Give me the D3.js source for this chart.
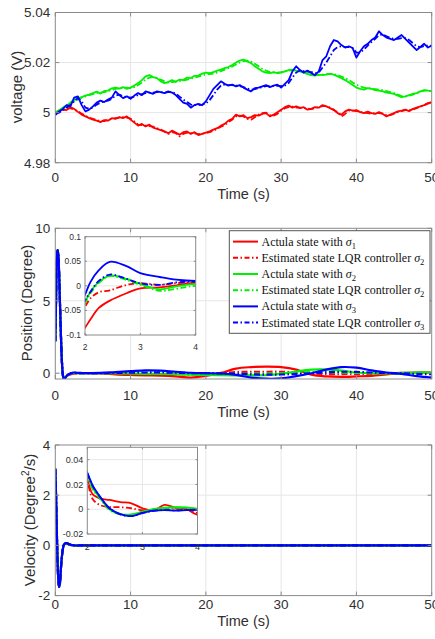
<!DOCTYPE html>
<html><head><meta charset="utf-8">
<script src="https://cdn.jsdelivr.net/npm/d3@7"></script>
<style>body{margin:0;background:#fff}</style>
</head><body><svg id="c" width="435" height="639" xmlns="http://www.w3.org/2000/svg"></svg>
<script>
// ---------------- DATA ----------------
const xTicks = [0, 10, 20, 30, 40, 50];

// Panel 1: voltage, sampled every 0.5 s from 0 to 50 s
const voltRed = [
5.0000,5.0008,5.0012,5.0010,5.0022,5.0015,5.0003,4.9992,4.9985,4.9978,
4.9972,4.9968,4.9962,4.9970,4.9968,4.9978,4.9975,4.9982,4.9978,4.9985,
4.9972,4.9960,4.9948,4.9955,4.9945,4.9952,4.9940,4.9935,4.9930,4.9925,
4.9918,4.9928,4.9920,4.9912,4.9922,4.9925,4.9915,4.9922,4.9910,4.9915,
4.9920,4.9925,4.9932,4.9938,4.9948,4.9955,4.9968,4.9975,4.9992,4.9985,
4.9990,4.9978,4.9982,4.9990,4.9988,4.9995,4.9998,4.9985,4.9992,5.0002,
5.0012,5.0022,5.0028,5.0020,5.0025,5.0018,5.0022,5.0012,5.0015,5.0022,
5.0020,5.0030,5.0025,5.0018,5.0010,4.9998,4.9992,5.0005,5.0012,5.0008,
5.0010,5.0002,4.9998,5.0004,4.9998,4.9995,5.0002,4.9995,4.9985,4.9992,
4.9998,5.0005,5.0008,5.0012,5.0006,5.0015,5.0020,5.0025,5.0030,5.0038,
5.0042];
const voltRedEst = [
5.0000,5.0004,5.0010,5.0016,5.0018,5.0012,5.0006,4.9996,4.9988,4.9980,
4.9975,4.9970,4.9966,4.9966,4.9972,4.9975,4.9978,4.9980,4.9982,4.9980,
4.9976,4.9965,4.9952,4.9950,4.9948,4.9946,4.9944,4.9938,4.9932,4.9924,
4.9915,4.9922,4.9918,4.9905,4.9915,4.9920,4.9918,4.9917,4.9914,4.9916,
4.9918,4.9922,4.9928,4.9935,4.9944,4.9950,4.9962,4.9972,4.9985,4.9988,
4.9985,4.9975,4.9972,4.9982,4.9992,4.9998,5.0000,4.9990,4.9988,4.9995,
5.0008,5.0018,5.0022,5.0024,5.0020,5.0020,5.0018,5.0016,5.0014,5.0018,
5.0022,5.0026,5.0026,5.0020,5.0012,5.0002,4.9985,4.9995,5.0008,5.0008,
5.0006,5.0004,5.0000,4.9998,4.9996,4.9998,4.9998,4.9996,4.9990,4.9990,
4.9996,5.0002,5.0006,5.0010,5.0010,5.0012,5.0018,5.0024,5.0030,5.0036,
5.0040];
const voltGreen = [
5.0000,5.0010,5.0020,5.0028,5.0040,5.0050,5.0058,5.0062,5.0068,5.0072,
5.0078,5.0084,5.0076,5.0087,5.0088,5.0097,5.0100,5.0096,5.0102,5.0095,
5.0100,5.0108,5.0118,5.0130,5.0145,5.0150,5.0142,5.0138,5.0125,5.0118,
5.0122,5.0130,5.0123,5.0132,5.0130,5.0140,5.0138,5.0147,5.0148,5.0156,
5.0160,5.0158,5.0162,5.0168,5.0172,5.0178,5.0182,5.0190,5.0200,5.0208,
5.0212,5.0205,5.0198,5.0185,5.0175,5.0165,5.0160,5.0158,5.0162,5.0158,
5.0160,5.0165,5.0170,5.0172,5.0168,5.0165,5.0160,5.0155,5.0150,5.0148,
5.0152,5.0150,5.0152,5.0155,5.0152,5.0145,5.0138,5.0130,5.0120,5.0110,
5.0100,5.0095,5.0092,5.0098,5.0095,5.0090,5.0088,5.0085,5.0080,5.0078,
5.0075,5.0068,5.0062,5.0065,5.0070,5.0075,5.0078,5.0085,5.0090,5.0088,
5.0085];
const voltGreenEst = [
5.0000,5.0008,5.0016,5.0025,5.0035,5.0045,5.0052,5.0060,5.0065,5.0070,
5.0074,5.0078,5.0080,5.0082,5.0086,5.0090,5.0095,5.0098,5.0100,5.0100,
5.0098,5.0102,5.0110,5.0120,5.0132,5.0140,5.0142,5.0138,5.0132,5.0125,
5.0120,5.0122,5.0124,5.0126,5.0128,5.0132,5.0136,5.0140,5.0144,5.0148,
5.0152,5.0154,5.0156,5.0160,5.0166,5.0172,5.0178,5.0184,5.0192,5.0200,
5.0206,5.0208,5.0204,5.0195,5.0185,5.0175,5.0168,5.0162,5.0160,5.0160,
5.0162,5.0164,5.0168,5.0170,5.0168,5.0164,5.0160,5.0156,5.0152,5.0150,
5.0150,5.0152,5.0154,5.0155,5.0154,5.0150,5.0144,5.0138,5.0130,5.0120,
5.0112,5.0105,5.0100,5.0098,5.0096,5.0094,5.0092,5.0090,5.0086,5.0082,
5.0078,5.0072,5.0066,5.0064,5.0068,5.0072,5.0078,5.0084,5.0088,5.0088,
5.0086];
const voltBlue = [
4.9990,5.0005,5.0015,5.0030,5.0025,5.0060,5.0065,5.0030,5.0005,5.0012,
5.0025,5.0040,5.0048,5.0042,5.0052,5.0060,5.0085,5.0070,5.0058,5.0065,
5.0055,5.0068,5.0078,5.0070,5.0085,5.0080,5.0075,5.0085,5.0082,5.0078,
5.0085,5.0080,5.0070,5.0055,5.0040,5.0035,5.0020,5.0030,5.0035,5.0030,
5.0045,5.0070,5.0095,5.0110,5.0125,5.0115,5.0108,5.0112,5.0105,5.0110,
5.0100,5.0092,5.0085,5.0098,5.0100,5.0105,5.0110,5.0102,5.0108,5.0112,
5.0100,5.0115,5.0130,5.0165,5.0185,5.0170,5.0160,5.0168,5.0158,5.0150,
5.0165,5.0210,5.0225,5.0265,5.0290,5.0285,5.0270,5.0260,5.0265,5.0258,
5.0220,5.0245,5.0265,5.0275,5.0290,5.0300,5.0325,5.0310,5.0300,5.0295,
5.0290,5.0300,5.0310,5.0295,5.0280,5.0265,5.0250,5.0262,5.0275,5.0260,
5.0268];
const voltBlueEst = [
4.9995,5.0000,5.0010,5.0020,5.0030,5.0045,5.0058,5.0045,5.0020,5.0015,
5.0020,5.0032,5.0040,5.0045,5.0048,5.0055,5.0068,5.0072,5.0065,5.0062,
5.0060,5.0064,5.0070,5.0074,5.0078,5.0080,5.0080,5.0082,5.0082,5.0080,
5.0082,5.0082,5.0076,5.0064,5.0052,5.0042,5.0032,5.0030,5.0030,5.0032,
5.0036,5.0050,5.0070,5.0092,5.0108,5.0112,5.0110,5.0110,5.0108,5.0106,
5.0102,5.0096,5.0092,5.0094,5.0098,5.0102,5.0106,5.0106,5.0106,5.0108,
5.0106,5.0108,5.0118,5.0140,5.0160,5.0168,5.0166,5.0164,5.0162,5.0158,
5.0160,5.0180,5.0200,5.0225,5.0250,5.0262,5.0265,5.0262,5.0262,5.0258,
5.0240,5.0240,5.0252,5.0268,5.0282,5.0295,5.0310,5.0312,5.0305,5.0298,
5.0295,5.0295,5.0298,5.0298,5.0290,5.0278,5.0265,5.0262,5.0266,5.0268,
5.0268];
const voltYTicks = [4.98, 5, 5.02, 5.04];
const voltYLabels = ["4.98", "5", "5.02", "5.04"];

// Panel 2: position (degree)
const posTime = [0,0.1,0.2,0.3,0.4,0.5,0.6,0.7,0.8,0.9,1.0,1.1,1.2,1.35,1.5,1.75,
  2,2.1,2.25,2.45,2.75,3,3.35,3.65,4,6,8,10,12,14,16,18,20,22,24,26,28,30,32,34,36,38,40,42,44,46,48,50];
const posRed = [2.2,5.0,7.8,8.5,8.2,7.0,5.2,3.4,1.8,0.6,-0.1,-0.35,-0.38,-0.3,-0.2,-0.12,
  -0.085,-0.068,-0.045,-0.03,-0.015,-0.005,-0.003,0.001,0.0055,
  -0.02,-0.08,-0.12,-0.15,-0.17,-0.22,-0.3,-0.18,0.02,0.32,0.42,0.45,0.42,0.25,-0.1,-0.22,-0.25,-0.22,-0.18,-0.08,0.02,0.05,0.05];
const posRedEst = [2.2,5.0,7.8,8.5,8.2,7.0,5.2,3.4,1.8,0.6,-0.1,-0.35,-0.38,-0.28,-0.18,-0.09,
  -0.043,-0.025,-0.013,-0.009,0.002,0.0055,0.002,0.0055,0.007,
  0.0,-0.02,-0.03,-0.04,-0.05,-0.06,-0.08,-0.05,0.0,0.08,0.1,0.1,0.1,0.06,-0.02,-0.06,-0.06,-0.05,-0.04,-0.02,0.0,0.01,0.01];
const posGreen = [2.2,5.0,7.8,8.5,8.2,7.0,5.2,3.4,1.8,0.6,-0.1,-0.35,-0.38,-0.3,-0.2,-0.1,
  -0.033,-0.012,0.008,0.021,0.014,0.004,-0.007,-0.001,0.004,
  0.01,0.0,-0.02,-0.05,-0.05,-0.06,-0.1,-0.12,-0.14,-0.15,-0.15,-0.14,-0.05,0.12,0.25,0.26,0.18,0.05,0.0,-0.02,0.02,0.05,0.05];
const posGreenEst = [2.2,5.0,7.8,8.5,8.2,7.0,5.2,3.4,1.8,0.6,-0.1,-0.35,-0.38,-0.3,-0.2,-0.1,
  -0.036,-0.015,0.006,0.02,0.012,0.002,-0.01,-0.006,0.0,
  0.0,0.0,-0.01,-0.02,-0.02,-0.02,-0.03,-0.04,-0.04,-0.05,-0.05,-0.04,-0.02,0.03,0.07,0.07,0.05,0.02,0.0,0.0,0.01,0.02,0.02];
const posBlue = [2.2,5.0,7.8,8.5,8.2,7.0,5.2,3.4,1.8,0.6,-0.1,-0.35,-0.38,-0.3,-0.2,-0.08,
  -0.018,0.008,0.032,0.049,0.04,0.026,0.018,0.0125,0.01,
  0.02,0.08,0.14,0.2,0.18,0.1,0.03,0.0,-0.02,-0.12,-0.3,-0.38,-0.36,-0.2,0.0,0.25,0.42,0.38,0.2,0.05,-0.05,-0.2,-0.3];
const posBlueEst = [2.2,5.0,7.8,8.5,8.2,7.0,5.2,3.4,1.8,0.6,-0.1,-0.35,-0.38,-0.3,-0.2,-0.09,
  -0.03,-0.012,0.01,0.023,0.014,0.005,0.002,0.007,0.009,
  0.01,0.02,0.04,0.05,0.05,0.03,0.01,0.0,-0.01,-0.03,-0.08,-0.1,-0.09,-0.05,0.0,0.06,0.1,0.09,0.05,0.01,-0.01,-0.05,-0.07];
const posYTicks = [0, 5, 10];
const posInsetYTicks = [-0.1, -0.05, 0, 0.05, 0.1];
const posInsetYLabels = ["-0.1", "-0.05", "0", "0.05", "0.1"];
const insetXTicks = [2, 3, 4];

// Panel 3: velocity
const velTime = [0,0.1,0.2,0.3,0.4,0.5,0.6,0.7,0.8,1.0,1.2,1.5,1.8,
  2,2.1,2.25,2.4,2.6,2.8,3.0,3.2,3.4,3.6,3.8,4,6,10,20,30,40,50];
const velRed = [3.05,2.0,0.6,-0.6,-1.35,-1.65,-1.55,-1.15,-0.7,-0.15,0.06,0.09,0.05,
  0.024,0.012,0.0085,0.0075,0.0058,0.0048,0.0008,-0.0012,0.0035,0.0012,0.0002,-0.0045,0,0,0,0,0,0];
const velRedEst = [3.05,2.0,0.6,-0.6,-1.35,-1.65,-1.55,-1.15,-0.7,-0.15,0.06,0.09,0.05,
  0.023,0.008,0.003,0.0018,0.0016,0.0008,-0.0008,-0.0004,0.0008,0.0004,0.0,-0.003,0,0,0,0,0,0];
const velGreen = [3.05,2.0,0.6,-0.6,-1.35,-1.65,-1.55,-1.15,-0.7,-0.15,0.06,0.09,0.05,
  0.028,0.017,0.008,0.0,-0.004,-0.0042,-0.002,0.0,0.0012,0.0016,0.0014,0.0005,0,0,0,0,0,0];
const velGreenEst = [3.05,2.0,0.6,-0.6,-1.35,-1.65,-1.55,-1.15,-0.7,-0.15,0.06,0.09,0.05,
  0.027,0.016,0.0075,-0.0005,-0.0042,-0.0044,-0.0022,-0.0002,0.001,0.0014,0.0012,0.0004,0,0,0,0,0,0];
const velBlue = [3.05,2.0,0.6,-0.6,-1.35,-1.65,-1.55,-1.15,-0.7,-0.15,0.06,0.09,0.05,
  0.0296,0.019,0.009,0.001,-0.004,-0.0055,-0.003,-0.0012,-0.0008,-0.0012,-0.0008,-0.0005,0,0,0,0,0,0];
const velBlueEst = [3.05,2.0,0.6,-0.6,-1.35,-1.65,-1.55,-1.15,-0.7,-0.15,0.06,0.09,0.05,
  0.029,0.0185,0.0088,0.0008,-0.0042,-0.0056,-0.0032,-0.0013,-0.0006,-0.001,-0.0006,-0.0003,0,0,0,0,0,0];
const velYTicks = [-2, 0, 2, 4];
const velInsetYTicks = [-0.02, 0, 0.02, 0.04];
const velInsetYLabels = ["-0.02", "0", "0.02", "0.04"];

const legendLabels = [
  ["Actula state with ", "1"],
  ["Estimated state LQR controller ", "2"],
  ["Actula state with ", "2"],
  ["Estimated state LQR controller ", "2"],
  ["Actula state with ", "3"],
  ["Estimated state LQR controller ", "3"]
];

// ---------------- STYLE ----------------
const RED = "#ff0000", GREEN = "#00f000", BLUE = "#0000ff";
const DASH = "6,2.5,1.5,2.5";
const SANS = "'Liberation Sans', Arial, sans-serif";
const SERIF = "'Liberation Serif', 'Times New Roman', serif";
const GRID = "#e6e6e6", FRAME = "#8a8a8a", TXT = "#303030";

const svg = d3.select("#c");
const X0 = 55.3, X1 = 431.7;
const x = d3.scaleLinear().domain([0, 50]).range([X0, X1]);
let clipId = 0;

function frameAxes(g, xs, ys, xt, yt, opts) {
  const [xa, xb] = xs.range(), [yb, ya] = ys.range();
  // grid
  g.selectAll(null).data(xt.filter(v => xs(v) > xa + 1 && xs(v) < xb - 1)).enter().append("line")
    .attr("x1", d => xs(d)).attr("x2", d => xs(d)).attr("y1", ya).attr("y2", yb)
    .attr("stroke", GRID).attr("stroke-width", 1);
  g.selectAll(null).data(yt.filter(v => ys(v) > ya + 1 && ys(v) < yb - 1)).enter().append("line")
    .attr("y1", d => ys(d)).attr("y2", d => ys(d)).attr("x1", xa).attr("x2", xb)
    .attr("stroke", GRID).attr("stroke-width", 1);
}
function drawFrame(g, xs, ys, xt, yt, tl) {
  const [xa, xb] = xs.range(), [yb, ya] = ys.range();
  g.append("rect").attr("x", xa).attr("y", ya).attr("width", xb - xa).attr("height", yb - ya)
    .attr("fill", "none").attr("stroke", FRAME).attr("stroke-width", 1);
  xt.forEach(v => {
    g.append("line").attr("x1", xs(v)).attr("x2", xs(v)).attr("y1", yb).attr("y2", yb - tl).attr("stroke", FRAME);
    g.append("line").attr("x1", xs(v)).attr("x2", xs(v)).attr("y1", ya).attr("y2", ya + tl).attr("stroke", FRAME);
  });
  yt.forEach(v => {
    g.append("line").attr("y1", ys(v)).attr("y2", ys(v)).attr("x1", xa).attr("x2", xa + tl).attr("stroke", FRAME);
    g.append("line").attr("y1", ys(v)).attr("y2", ys(v)).attr("x1", xb).attr("x2", xb - tl).attr("stroke", FRAME);
  });
}
function tickLabels(g, xs, ys, xt, xl, yt, yl, fs, xOff, yOff) {
  const [xa] = xs.range(), [yb] = ys.range();
  xt.forEach((v, i) => g.append("text").attr("x", xs(v)).attr("y", yb + xOff).attr("dy", "0.36em")
    .attr("text-anchor", "middle").attr("font-family", SANS).attr("font-size", fs).attr("fill", TXT).text(xl[i]));
  yt.forEach((v, i) => g.append("text").attr("x", xa - yOff).attr("y", ys(v)).attr("dy", "0.36em")
    .attr("text-anchor", "end").attr("font-family", SANS).attr("font-size", fs).attr("fill", TXT).text(yl[i]));
}
function clipRect(xs, ys) {
  const id = "clip" + (clipId++);
  const [xa, xb] = xs.range(), [yb, ya] = ys.range();
  svg.append("clipPath").attr("id", id).append("rect")
    .attr("x", xa).attr("y", ya).attr("width", xb - xa).attr("height", yb - ya);
  return "url(#" + id + ")";
}
function drawSeries(g, xs, ys, times, series, curve) {
  series.forEach(s => {
    const line = d3.line().x((d, i) => xs(times ? times[i] : i * 50 / (s.v.length - 1))).y(d => ys(d)).curve(curve);
    g.append("path").attr("d", line(s.v)).attr("fill", "none").attr("stroke", s.c)
      .attr("stroke-width", s.w).attr("stroke-dasharray", s.d ? DASH : null)
      .attr("stroke-linejoin", "round");
  });
}
function yLabel(cx, cy, build) {
  const t = svg.append("text").attr("transform", `translate(${cx},${cy}) rotate(-90)`)
    .attr("text-anchor", "middle").attr("dy", "0.36em").attr("font-family", SANS)
    .attr("font-size", 15).attr("fill", TXT);
  build(t);
}
function xLabel(cy) {
  svg.append("text").attr("x", (X0 + X1) / 2).attr("y", cy).attr("dy", "0.36em").attr("text-anchor", "middle")
    .attr("font-family", SANS).attr("font-size", 14.5).attr("fill", TXT).text("Time (s)");
}
const xLabels = xTicks.map(String);

// ---------------- PANEL 1 ----------------
{
  const y = d3.scaleLinear().domain([4.98, 5.04]).range([162.7, 12.5]);
  const g = svg.append("g");
  frameAxes(g, x, y, xTicks, voltYTicks);
  const lg = g.append("g").attr("clip-path", clipRect(x, y));
  drawSeries(lg, x, y, null, [
    {v: voltRed, c: RED, w: 1.8}, {v: voltRedEst, c: RED, w: 1.8, d: 1},
    {v: voltGreen, c: GREEN, w: 1.8}, {v: voltGreenEst, c: GREEN, w: 1.8, d: 1},
    {v: voltBlue, c: BLUE, w: 1.8}, {v: voltBlueEst, c: BLUE, w: 1.8, d: 1}
  ], d3.curveLinear);
  drawFrame(g, x, y, xTicks, voltYTicks, 4);
  tickLabels(g, x, y, xTicks, xLabels, voltYTicks, voltYLabels, 13.5, 14, 5);
  yLabel(17, 87, t => t.text("voltage (V)"));
  xLabel(194);
}

// ---------------- PANEL 2 ----------------
{
  const y = d3.scaleLinear().domain([-0.4, 10]).range([379, 228.3]);
  const g = svg.append("g");
  frameAxes(g, x, y, xTicks, posYTicks);
  const lg = g.append("g").attr("clip-path", clipRect(x, y));
  const ser = (w) => [
    {v: posRed, c: RED, w}, {v: posRedEst, c: RED, w, d: 1},
    {v: posGreen, c: GREEN, w}, {v: posGreenEst, c: GREEN, w, d: 1},
    {v: posBlue, c: BLUE, w}, {v: posBlueEst, c: BLUE, w, d: 1}
  ];
  drawSeries(lg, x, y, posTime, ser(2.2), d3.curveCatmullRom);
  drawFrame(g, x, y, xTicks, posYTicks, 4);
  tickLabels(g, x, y, xTicks, xLabels, posYTicks, posYTicks.map(String), 13.5, 16, 5);
  yLabel(27, 303, t => t.text("Position (Degree)"));
  xLabel(411.7);

  // inset
  const xi = d3.scaleLinear().domain([2, 4]).range([85, 195.7]);
  const yi = d3.scaleLinear().domain([-0.1, 0.1]).range([335, 236.7]);
  const gi = svg.append("g");
  gi.append("rect").attr("x", 85).attr("y", 236.7).attr("width", 110.7).attr("height", 98.3).attr("fill", "#fff");
  frameAxes(gi, xi, yi, insetXTicks, posInsetYTicks);
  const li = gi.append("g").attr("clip-path", clipRect(xi, yi));
  drawSeries(li, xi, yi, posTime, ser(1.8), d3.curveCatmullRom);
  drawFrame(gi, xi, yi, insetXTicks, posInsetYTicks, 2);
  tickLabels(gi, xi, yi, insetXTicks, insetXTicks.map(String), posInsetYTicks, posInsetYLabels, 8.5, 11.5, 4);

  // legend
  const L = svg.append("g");
  L.append("rect").attr("x", 229.3).attr("y", 230.7).attr("width", 200.7).attr("height", 102.6)
    .attr("fill", "#fff").attr("stroke", "#555").attr("stroke-width", 1);
  const cols = [RED, RED, GREEN, GREEN, BLUE, BLUE];
  legendLabels.forEach((lab, i) => {
    const yy = 241.6 + i * 16.2;
    L.append("line").attr("x1", 233).attr("x2", 258).attr("y1", yy).attr("y2", yy)
      .attr("stroke", cols[i]).attr("stroke-width", 2).attr("stroke-dasharray", i % 2 ? "5,2.5,1.5,2.5" : null);
    const t = L.append("text").attr("x", 261.5).attr("y", yy).attr("dy", "0.33em")
      .attr("font-family", SERIF).attr("font-size", 12).attr("fill", "#111");
    t.append("tspan").text(lab[0]);
    t.append("tspan").attr("font-style", "italic").text("σ");
    t.append("tspan").attr("font-size", 8.5).attr("dy", 3).text(lab[1]);
  });
}

// ---------------- PANEL 3 ----------------
{
  const y = d3.scaleLinear().domain([-2, 4]).range([595.6, 445]);
  const g = svg.append("g");
  frameAxes(g, x, y, xTicks, velYTicks);
  const lg = g.append("g").attr("clip-path", clipRect(x, y));
  const ser = (w) => [
    {v: velRed, c: RED, w}, {v: velRedEst, c: RED, w, d: 1},
    {v: velGreen, c: GREEN, w}, {v: velGreenEst, c: GREEN, w, d: 1},
    {v: velBlue, c: BLUE, w}, {v: velBlueEst, c: BLUE, w, d: 1}
  ];
  drawSeries(lg, x, y, velTime, ser(2.2), d3.curveCatmullRom);
  drawFrame(g, x, y, xTicks, velYTicks, 4);
  tickLabels(g, x, y, xTicks, xLabels, velYTicks, velYTicks.map(String), 13.5, 8.5, 5);
  yLabel(30, 520, t => {
    t.append("tspan").text("Velocity (Degree");
    t.append("tspan").attr("font-size", 10).attr("dy", -6).text("2");
    t.append("tspan").attr("dy", 6).text("/s)");
  });
  xLabel(621);

  const xi = d3.scaleLinear().domain([2, 4]).range([87.3, 197.5]);
  const yi = d3.scaleLinear().domain([-0.02, 0.05]).range([534, 447.3]);
  const gi = svg.append("g");
  gi.append("rect").attr("x", 87.3).attr("y", 447.3).attr("width", 110.2).attr("height", 86.7).attr("fill", "#fff");
  frameAxes(gi, xi, yi, insetXTicks, velInsetYTicks);
  const li = gi.append("g").attr("clip-path", clipRect(xi, yi));
  drawSeries(li, xi, yi, velTime, ser(1.8), d3.curveCatmullRom);
  drawFrame(gi, xi, yi, insetXTicks, velInsetYTicks, 2);
  tickLabels(gi, xi, yi, insetXTicks, insetXTicks.map(String), velInsetYTicks, velInsetYLabels, 9, 13, 4);
}
</script></body></html>
